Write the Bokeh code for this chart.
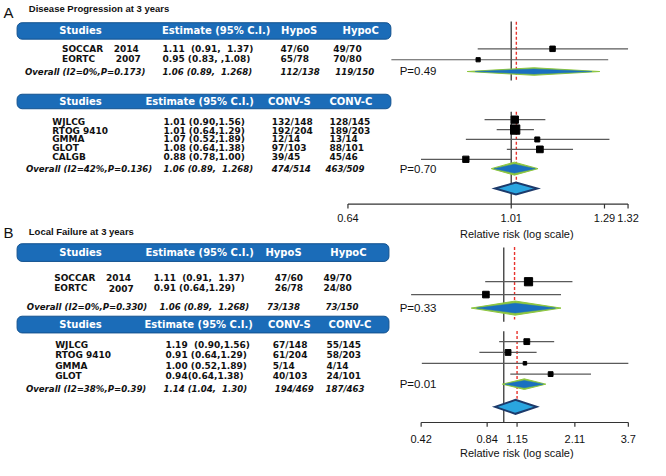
import math
from bokeh.plotting import figure
from bokeh.models import Range1d, LogScale
from bokeh.embed import file_html
from bokeh.resources import INLINE
from bokeh.core.properties import value

NB = "\u00a0"

# ---------------- data ----------------
# Panel A : Disease Progression at 3 years
a_title = "Disease Progression at 3 years"
a1_header = ["Studies", "Estimate (95% C.I.)", "HypoS", "HypoC"]
a1_studies = ["SOCCAR", "EORTC"]
a1_years = ["2014", "2007"]
a1_est_text = ["1.11 " + NB + "(0.91, " + NB + "1.37)", "0.95 (0.83, ,1.08)"]
a1_s = ["47/60", "65/78"]
a1_c = ["49/70", "70/80"]
a1_overall = ["Overall (I2=0%,P=0.173)", "1.06 (0.89, " + NB + "1.268)", "112/138", "119/150"]
a1_rr = [1.086, 0.896]
a1_lo = [0.895, 0.716]
a1_hi = [1.32, 1.254]
a1_pool = [0.871, 1.035, 1.227]
a1_p = "P=0.49"

a2_header = ["Studies", "Estimate (95% C.I.)", "CONV-S", "CONV-C"]
a2_studies = ["WJLCG", "RTOG 9410", "GMMA", "GLOT", "CALGB"]
a2_est_text = ["1.01 (0.90,1.56)", "1.01 (0.64,1.29)", "1.07 (0.52,1.89)",
               "1.08 (0.64,1.38)", "0.88 (0.78,1.00)"]
a2_s = ["132/148", "192/204", "12/14", "97/103", "39/45"]
a2_c = ["128/145", "189/203", "13/14", "88/101", "45/46"]
a2_overall = ["Overall (I2=42%,P=0.136)", "1.06 (0.89, " + NB + "1.268)", "474/514", "463/509"]
a2_rr = [0.985, 0.986, 1.044, 1.051, 0.868]
a2_lo = [0.911, 0.940, 0.868, 0.965, 0.773]
a2_hi = [1.066, 1.035, 1.258, 1.145, 0.976]
a2_pool = [0.927, 0.984, 1.046]
a2_p = "P=0.70"
a_total = [0.936, 0.988, 1.044]
a_null = 0.976
a_ref = 0.989
a_tick_labels = ["0.64", "1.01", "1.29", "1.32"]
a_tick_at = [0.64, 0.976, 1.242, 1.32]

# Panel B : Local Failure at 3 years
b_title = "Local Failure at 3 years"
b1_header = ["Studies", "Estimate (95% C.I.)", "HypoS", "HypoC"]
b1_studies = ["SOCCAR", "EORTC"]
b1_years = ["2014", "2007"]
b1_est_text = ["1.11 " + NB + "(0.91, " + NB + "1.37)", "0.91 (0.64,1.29)"]
b1_s = ["47/60", "26/78"]
b1_c = ["49/70", "24/80"]
b1_overall = ["Overall (I2=0%,P=0.330)", "1.06 (0.89, " + NB + "1.268)", "73/138", "73/150"]
b1_rr = [1.297, 0.829]
b1_lo = [0.823, 0.378]
b1_hi = [2.057, 1.824]
b1_pool = [0.711, 1.127, 1.824]
b1_p = "P=0.33"

b2_header = ["Studies", "Estimate (95% C.I.)", "CONV-S", "CONV-C"]
b2_studies = ["WJLCG", "RTOG 9410", "GMMA", "GLOT"]
b2_est_text = ["1.19 " + NB + "(0.90,1.56)", "0.91 (0.64,1.29)", "1.00 (0.52,1.89)", "0.94(0.64,1.38)"]
b2_s = ["67/148", "61/204", "5/14", "40/103"]
b2_c = ["55/145", "58/203", "4/14", "24/101"]
b2_overall = ["Overall (I2=38%,P=0.39)", "1.14 (1.04, " + NB + "1.30)", "194/469", "187/463"]
b2_rr = [1.274, 1.046, 1.249, 1.636]
b2_lo = [0.953, 0.774, 0.423, 1.071]
b2_hi = [1.698, 1.412, 3.7, 2.499]
b2_pool = [0.986, 1.241, 1.555]
b2_p = "P=0.01"
b_total = [0.912, 1.131, 1.412]
b_null = 1.0
b_ref1 = 1.12
b_ref2 = 1.15
b_tick_labels = ["0.42", "0.84", "1.15", "2.11", "3.7"]
b_tick_at = [float(t) for t in b_tick_labels]

axis_label = "Relative risk (log scale)"

# ---------------- styles ----------------
W_REF, H_REF = 666, 476
HEAD_FILL, HEAD_LINE = "#1b6cb8", "#13528f"
GREEN, BLUE = "#8dc63f", "#1a6fc0"
NAVY, LIGHTBLUE = "#1c3a6b", "#2aa5e0"
TXT = "#111111"
TFONT = value("DejaVu Sans")
AFONT = value("Liberation Sans")

p = figure(width=650, height=460, output_backend="svg", toolbar_location=None,
           x_range=Range1d(0, W_REF), y_range=Range1d(H_REF, 0),
           min_border=0, background_fill_color="white", border_fill_color="white")
p.axis.visible = False
p.grid.visible = False
p.outline_line_color = None


def log_range(px0, px1, v0, v1):
    k = (px1 - px0) / math.log(v1 / v0)
    return Range1d(v0 * math.exp(-px0 / k), v0 * math.exp((W_REF - px0) / k))


p.extra_x_ranges = {"A": log_range(356, 643, 0.64, 1.32),
                    "B": log_range(431, 643.3, 0.42, 3.7)}
p.extra_x_scales = {"A": LogScale(), "B": LogScale()}


def txt(x, y, t, size, bold=True, italic=False, color=TXT, align="left", font=TFONT, rn="default"):
    style = "bold italic" if (bold and italic) else ("bold" if bold else ("italic" if italic else "normal"))
    p.text(x=x, y=y, text=t, text_font=font, text_font_size=size, text_font_style=style,
           text_color=color, text_align=align, text_baseline="middle", x_range_name=rn)


def table(header, hbox, hcx, rows, cols, row_y0, row_dy, years, year_x, overall, ov_y, ov_cols):
    left, right, top, bottom = hbox
    p.quad(left=[left], right=[right], top=[top], bottom=[bottom], fill_color=HEAD_FILL,
           line_color=HEAD_LINE, line_width=1, border_radius=5)
    hy = (top + bottom) / 2
    txt(hcx, [hy] * len(header), header, "10px", color="white", align="center")
    n = len(rows[0])
    ys = [row_y0 + row_dy * i for i in range(n)]
    for col, x in zip(rows, cols):
        txt([x] * n, ys, col, "9px")
    if years:
        txt([year_x[i] for i in range(n)], ys, years, "9px")
    txt(ov_cols, [ov_y] * 4, overall, "8.6px", italic=True)


def forest(rn, rr, lo, hi, sizes, fy0, fdy, pool, pool_y, pool_hh, p_text, p_y):
    ys = [fy0 + fdy * i for i in range(len(rr))]
    p.segment(x0=lo, x1=hi, y0=ys, y1=ys, line_color="#5a5a5a", line_width=1.2, x_range_name=rn)
    p.scatter(x=rr, y=ys, size=sizes, marker="square", fill_color="black", line_color="black",
              x_range_name=rn)
    l, c, h = pool
    p.patch(x=[l, c, h, c], y=[pool_y, pool_y - pool_hh, pool_y, pool_y + pool_hh],
            fill_color=GREEN, line_color=GREEN, line_width=1, x_range_name=rn)
    li, hi_ = c * (l / c) ** 0.88, c * (h / c) ** 0.88
    p.patch(x=[li, c, hi_, c], y=[pool_y, pool_y - pool_hh * 0.68, pool_y, pool_y + pool_hh * 0.68],
            fill_color=BLUE, line_color=BLUE, line_width=0.5, x_range_name=rn)
    txt([409], [p_y], [p_text], "11.5px", bold=False, font=AFONT)


def total_diamond(rn, tot, y, hh):
    l, c, h = tot
    p.patch(x=[l, c, h, c], y=[y, y - hh, y, y + hh], fill_color=LIGHTBLUE,
            line_color=NAVY, line_width=2, line_join="miter", x_range_name=rn)


def vline(rn, x, y0, y1, color, dash="solid", w=1.4):
    p.segment(x0=[x], x1=[x], y0=[y0], y1=[y1], line_color=color, line_width=w,
              line_dash=dash, x_range_name=rn)


def axis(rn, tick_at, labels, y, label_y):
    p.segment(x0=[tick_at[0]], x1=[tick_at[-1]], y0=[y], y1=[y], line_color="#333333",
              line_width=1.2, x_range_name=rn)
    p.segment(x0=tick_at, x1=tick_at, y0=[y] * len(tick_at), y1=[y + 4.5] * len(tick_at),
              line_color="#333333", line_width=1.2, x_range_name=rn)
    txt(tick_at, [label_y] * len(tick_at), labels, "11px", bold=False, align="center",
        font=AFONT, rn=rn)


# ---------------- panel A ----------------
txt([3], [12], ["A"], "15px", bold=False, font=AFONT)
txt([29], [8.5], [a_title], "9.5px", font=AFONT)

vline("A", a_null, 21.7, 82.7, "#444444")
vline("A", a_null, 115, 210.7, "#444444")
vline("A", a_ref, 22, 82.7, "#e8322c", "3 2")
vline("A", a_ref, 115, 203, "#e8322c", "3 2")

table(a1_header, (17, 400, 23, 40), [82, 221, 306, 369],
      [a1_studies, a1_est_text, a1_s, a1_c], [63, 166, 287, 341], 50, 10.3,
      a1_years, [116, 118], a1_overall, 74, [25, 166, 287, 343])
forest("A", a1_rr, a1_lo, a1_hi, [5.5, 4.2], 50, 11.3, a1_pool, 73.5, 3.9, a1_p, 73)

table(a2_header, (17, 400, 97, 112), [82, 204, 296, 359],
      [a2_studies, a2_est_text, a2_s, a2_c], [53, 167, 278, 337], 125.6, 9.1,
      None, None, a2_overall, 174, [26, 167, 278, 333])
forest("A", a2_rr, a2_lo, a2_hi, [7.3, 9.3, 5, 6.7, 6.3], 123.3, 10.25, a2_pool, 174, 6.7, a2_p, 174)
total_diamond("A", a_total, 194.5, 6.2)
axis("A", a_tick_at, a_tick_labels, 210.7, 225)
txt([529], [241.5], [axis_label], "11px", bold=False, align="center", font=AFONT)

# ---------------- panel B ----------------
txt([3], [240], ["B"], "15px", bold=False, font=AFONT)
txt([29], [239], [b_title], "9.5px", font=AFONT)

vline("B", b_null, 255.7, 332.3, "#444444")
vline("B", b_null, 342.3, 436.7, "#444444")
vline("B", b_ref1, 255, 330, "#e8322c", "3 2")
vline("B", b_ref2, 342, 412, "#e8322c", "3 2")

table(b1_header, (17, 398, 251.7, 270), [82, 204, 290, 356.5],
      [b1_studies, b1_est_text, b1_s, b1_c], [55, 157, 281, 331], 287, 11,
      b1_years, [108, 111], b1_overall, 316.7, [27, 163, 273, 333])
forest("B", b1_rr, b1_lo, b1_hi, [8.2, 6.6], 291, 13.3, b1_pool, 318.3, 7.3, b1_p, 318)

table(b2_header, (17, 398, 326.7, 344), [82, 203, 296, 358],
      [b2_studies, b2_est_text, b2_s, b2_c], [56, 169, 279, 334], 356.7, 10.5,
      None, None, b2_overall, 402, [26, 167, 281, 333])
forest("B", b2_rr, b2_lo, b2_hi, [5.8, 5.8, 3.5, 4.8], 353, 11.2, b2_pool, 397, 5.5, b2_p, 397)
total_diamond("B", b_total, 420.5, 7.2)
axis("B", b_tick_at, b_tick_labels, 436.7, 453.3)
txt([529], [468.3], [axis_label], "11px", bold=False, align="center", font=AFONT)

open("out.html", "w").write(file_html(p, INLINE))
